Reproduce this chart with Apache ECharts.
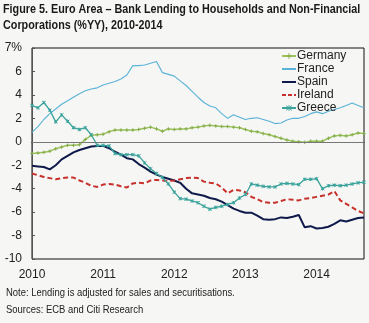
<!DOCTYPE html>
<html><head><meta charset="utf-8">
<script src="https://cdn.jsdelivr.net/npm/echarts@6/dist/echarts.min.js"></script>
<style>html,body{margin:0;padding:0;background:#f6f6f4;}#c{width:369px;height:323px;}</style>
</head><body><div id="c"></div>
<script>
var years = ['2010','2011','2012','2013','2014'];
var yTicks = [-10,-8,-6,-4,-2,0,2,4,6,8];
var germany = [-1.0,-0.95,-0.9,-0.8,-0.6,-0.45,-0.3,-0.3,-0.25,0.2,0.55,0.6,0.65,0.85,1.0,1.0,1.0,1.0,1.05,1.15,1.25,1.1,0.9,1.1,1.05,1.1,1.1,1.2,1.25,1.35,1.4,1.35,1.3,1.3,1.25,1.2,1.05,0.9,0.85,0.7,0.6,0.45,0.3,0.15,0.05,0.0,-0.05,0.05,0.05,0.05,0.3,0.5,0.55,0.5,0.6,0.75,0.7];
var france = [0.8,1.3,1.9,2.4,2.8,3.2,3.5,3.8,4.1,4.35,4.5,4.6,4.85,5.0,5.15,5.35,5.7,6.5,6.5,6.55,6.7,6.85,5.9,5.75,5.6,5.2,4.8,4.3,3.8,3.35,3.05,2.9,2.4,2.0,2.3,2.1,1.9,2.0,2.05,1.9,1.75,1.55,1.6,1.85,2.0,2.0,2.15,2.4,2.55,2.4,2.6,2.75,2.9,3.1,3.3,3.1,2.9];
var spain = [-2.05,-2.1,-2.15,-2.35,-2.0,-1.5,-1.2,-0.9,-0.7,-0.55,-0.4,-0.35,-0.35,-0.55,-0.85,-1.1,-1.4,-1.5,-1.9,-2.2,-2.55,-2.8,-3.0,-3.15,-3.3,-3.5,-4.0,-4.4,-4.5,-4.6,-4.8,-4.9,-5.1,-5.4,-5.7,-5.9,-6.05,-6.05,-6.3,-6.6,-6.65,-6.6,-6.45,-6.5,-6.4,-6.25,-7.3,-7.2,-7.4,-7.35,-7.25,-7.0,-6.7,-6.8,-6.65,-6.5,-6.45];
var ireland = [-2.7,-2.85,-3.0,-3.1,-3.2,-3.1,-3.05,-3.05,-3.3,-3.5,-3.75,-3.85,-3.65,-3.6,-3.65,-3.8,-3.9,-3.55,-3.5,-3.55,-3.3,-3.25,-3.3,-3.35,-3.3,-3.2,-3.1,-3.05,-3.1,-3.4,-3.5,-3.55,-3.9,-4.4,-4.1,-4.15,-4.3,-4.7,-4.9,-5.15,-5.2,-5.2,-5.05,-4.9,-4.95,-5.0,-4.85,-4.8,-4.7,-4.6,-4.5,-4.2,-5.0,-5.3,-5.6,-5.9,-6.1];
var greece = [3.1,2.9,3.35,2.7,1.7,2.3,1.75,1.2,1.05,1.2,0.6,-0.3,-0.3,-0.35,-1.0,-1.1,-1.1,-1.1,-1.2,-1.8,-2.3,-2.7,-3.05,-3.6,-4.3,-4.85,-4.9,-5.05,-5.2,-5.5,-5.75,-5.6,-5.5,-5.35,-5.2,-4.8,-4.5,-3.6,-3.7,-3.8,-3.85,-3.85,-3.6,-3.55,-3.6,-3.65,-3.2,-3.2,-3.15,-4.0,-3.75,-3.7,-3.75,-3.7,-3.6,-3.5,-3.45];

var months = [];
for (var y = 0; y < years.length; y++) {
  for (var m = 1; m <= 12; m++) {
    if (months.length < germany.length) months.push(years[y] + '-' + (m < 10 ? '0' + m : m));
  }
}

var FONT = "'Liberation Sans',Arial,sans-serif";
var plusPath = 'path://M5,0L5,10M0,5L10,5';
var starPath = 'path://M1,1L9,9M9,1L1,9M5,0L5,10';
var hidden = {opacity: 0};

var chart = echarts.init(document.getElementById('c'), null, {renderer: 'canvas'});
chart.setOption({
  backgroundColor: '#f6f6f4',
  animation: false,
  graphic: [
    {type: 'text', x: 3, y: 3, scaleX: 0.83, style: {text: 'Figure 5. Euro Area \u2013 Bank Lending to Households and Non-Financial', font: 'bold 13px ' + FONT, fill: '#1a1a1a'}},
    {type: 'text', x: 3, y: 19, scaleX: 0.83, style: {text: 'Corporations (%YY), 2010-2014', font: 'bold 13px ' + FONT, fill: '#1a1a1a'}},
    {type: 'text', x: 6, y: 287, scaleX: 0.86, style: {text: 'Note: Lending is adjusted for sales and securitisations.', font: '11px ' + FONT, fill: '#222'}},
    {type: 'text', x: 6, y: 304, scaleX: 0.86, style: {text: 'Sources: ECB and Citi Research', font: '11px ' + FONT, fill: '#222'}}
  ],
  legend: {
    orient: 'vertical', left: 281, top: 50, padding: 0,
    itemWidth: 14, itemHeight: 7, itemGap: 1,
    textStyle: {fontFamily: FONT, fontSize: 12, lineHeight: 12, color: '#222', padding: [0,0,0,-4]},
    data: [
      {name: 'Germany', itemStyle: {color: 'transparent', borderColor: '#86ad4c', borderWidth: 1}},
      {name: 'France', itemStyle: hidden},
      {name: 'Spain', itemStyle: hidden},
      {name: 'Ireland', itemStyle: hidden, lineStyle: {type: [4, 2]}},
      {name: 'Greece', itemStyle: {color: 'transparent', borderColor: '#3aa39c', borderWidth: 1}}
    ]
  },
  grid: {left: 32, right: 5, top: 48, bottom: 64, show: true, borderColor: '#111', borderWidth: 1, backgroundColor: 'transparent'},
  xAxis: {
    type: 'category', data: months, boundaryGap: false,
    axisLine: {lineStyle: {color: '#111', width: 1}},
    axisTick: {show: false},
    axisLabel: {
      interval: function (idx) { return idx % 12 === 0; },
      formatter: function (v) { return v.slice(0, 4); },
      fontFamily: FONT, fontSize: 12, color: '#222', margin: 10
    },
    splitLine: {show: false}
  },
  yAxis: {
    type: 'value', min: yTicks[0], max: yTicks[yTicks.length - 1], interval: 2,
    axisLine: {show: true, lineStyle: {color: '#555', width: 1}},
    axisTick: {show: true, inside: true, length: 3, lineStyle: {color: '#555'}},
    axisLabel: {
      formatter: function (v) { return v === 8 ? '7%' : String(v); },
      fontFamily: FONT, fontSize: 12, color: '#222', margin: 10
    },
    splitLine: {show: false}
  },
  series: [
    {name: 'Germany', type: 'line', data: germany, symbol: plusPath, symbolSize: 3.5, showSymbol: true, showAllSymbol: true,
     lineStyle: {color: '#9cc35e', width: 1.5}, itemStyle: {color: '#9cc35e', borderColor: '#86ad4c', borderWidth: 1},
     markLine: {silent: true, symbol: 'none', label: {show: false}, lineStyle: {color: '#777', width: 1, type: 'solid'}, data: [{yAxis: 0}]}},
    {name: 'France', type: 'line', data: france, showSymbol: false, symbol: 'none',
     lineStyle: {color: '#5ab2d8', width: 1.1}, itemStyle: {color: '#5ab2d8'}},
    {name: 'Spain', type: 'line', data: spain, showSymbol: false, symbol: 'none',
     lineStyle: {color: '#0f1a4a', width: 2}, itemStyle: {color: '#0f1a4a'}},
    {name: 'Ireland', type: 'line', data: ireland, showSymbol: false, symbol: 'none',
     lineStyle: {color: '#c8302c', width: 2, type: [5, 3]}, itemStyle: {color: '#c8302c'}},
    {name: 'Greece', type: 'line', data: greece, symbol: starPath, symbolSize: 3.5, showSymbol: true, showAllSymbol: true,
     lineStyle: {color: '#3aa39c', width: 1.3}, itemStyle: {color: '#3aa39c', borderColor: '#3aa39c', borderWidth: 1}}
  ]
});
</script>
</body></html>
